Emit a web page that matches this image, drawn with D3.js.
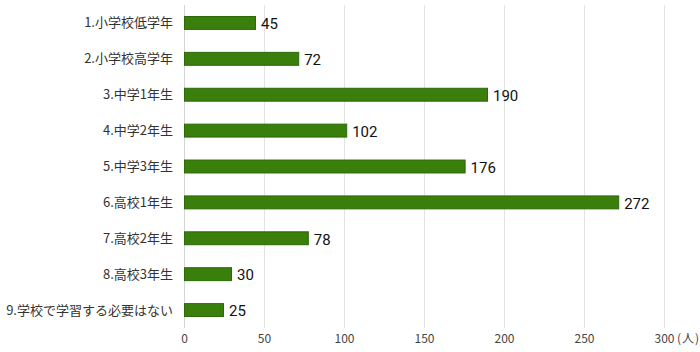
<!DOCTYPE html>
<html>
<head>
<meta charset="utf-8">
<script src="https://cdn.jsdelivr.net/npm/d3@7"></script>
<style>
  body { margin: 0; background: #fff; }
  svg { display: block; }
</style>
</head>
<body>
<script>
var categories = ["1.小学校低学年", "2.小学校高学年", "3.中学1年生", "4.中学2年生", "5.中学3年生",
                  "6.高校1年生", "7.高校2年生", "8.高校3年生", "9.学校で学習する必要はない"];
var values = [45, 72, 190, 102, 176, 272, 78, 30, 25];
var ticks = [0, 50, 100, 150, 200, 250, 300];
var unit = "(人)";

var width = 700, height = 352;
var margin = {top: 5, right: 36, bottom: 24, left: 184};

var svg = d3.select("body").append("svg")
    .attr("width", width)
    .attr("height", height);

var x = d3.scaleLinear().domain([0, 300]).range([margin.left, width - margin.right]);
var y = d3.scaleBand().domain(categories)
    .range([margin.top, height - margin.bottom])
    .paddingInner(0.64).paddingOuter(0.32);

// gridlines
svg.append("g").selectAll("line")
    .data(ticks)
  .enter().append("line")
    .attr("x1", function(d) { return Math.round(x(d)) + 0.5; })
    .attr("x2", function(d) { return Math.round(x(d)) + 0.5; })
    .attr("y1", margin.top)
    .attr("y2", height - margin.bottom)
    .attr("stroke", function(d) { return d === 0 ? "#d4d4d4" : "#e3e3e3"; })
    .attr("stroke-width", 1);

// x axis tick labels
var xAxis = d3.axisBottom(x).tickValues(ticks).tickSize(0).tickPadding(0);
var gx = svg.append("g")
    .attr("transform", "translate(0," + (height - margin.bottom + 6) + ")")
    .call(xAxis);
gx.select(".domain").remove();
gx.selectAll("text")
    .attr("dy", "0.71em")
    .style("font-family", "'Noto Sans CJK JP', 'Noto Sans', sans-serif")
    .style("font-size", "12px")
    .attr("fill", "#444");

svg.append("text")
    .attr("x", x(300) + 13)
    .attr("y", height - margin.bottom + 6)
    .attr("dy", "0.71em")
    .style("font-family", "'Noto Sans CJK JP', sans-serif")
    .style("font-size", "12px")
    .style("letter-spacing", "1px")
    .attr("fill", "#444")
    .text(unit);

// category labels
svg.append("g").selectAll("text")
    .data(categories)
  .enter().append("text")
    .attr("x", margin.left - 11)
    .attr("y", function(d) { return y(d) + y.bandwidth() / 2; })
    .attr("dy", "0.35em")
    .attr("text-anchor", "end")
    .style("font-family", "'Noto Sans CJK JP', sans-serif")
    .style("font-size", "13px")
    .attr("fill", "#333")
    .text(function(d) { return d; });

// bars
svg.append("g").selectAll("rect")
    .data(values)
  .enter().append("rect")
    .attr("x", x(0) + 0.5)
    .attr("y", function(d, i) { return y(categories[i]); })
    .attr("width", function(d) { return x(d) - x(0) - 1; })
    .attr("height", y.bandwidth())
    .attr("fill", "#3a7e0c")
    .attr("stroke", "#2b6a06")
    .attr("stroke-width", 1);

// value labels
svg.append("g").selectAll("text")
    .data(values)
  .enter().append("text")
    .attr("x", function(d) { return x(d) + 5; })
    .attr("y", function(d, i) { return y(categories[i]) + y.bandwidth() / 2 + 1; })
    .attr("dy", "0.35em")
    .style("font-family", "Roboto, 'Liberation Sans', sans-serif")
    .style("font-size", "15px")
    .attr("fill", "#111")
    .text(function(d) { return d; });
</script>
</body>
</html>
